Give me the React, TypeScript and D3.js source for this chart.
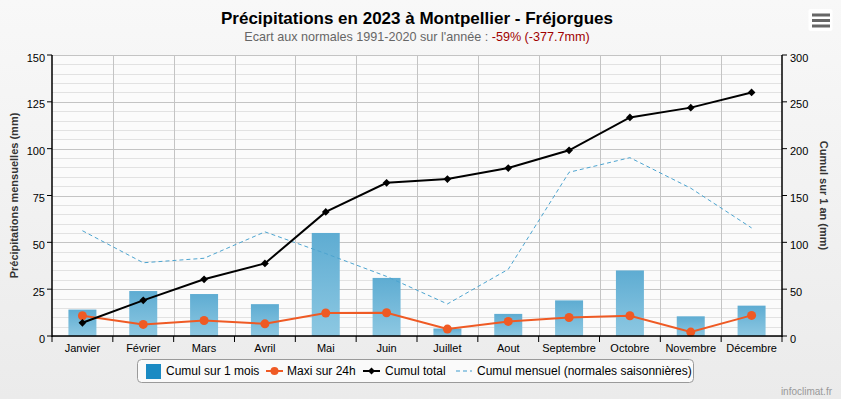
import React, { useRef, useEffect } from "react";
import * as d3 from "d3";

// Monthly data, Montpellier - Fréjorgues, 2023
const months = [
  "Janvier", "Février", "Mars", "Avril", "Mai", "Juin",
  "Juillet", "Aout", "Septembre", "Octobre", "Novembre", "Décembre",
];
const monthlyRain = [14.1, 24.0, 22.4, 17.0, 55.0, 31.0, 4.0, 11.8, 19.0, 35.0, 10.5, 16.2];
const max24h = [10.8, 6.2, 8.3, 6.5, 12.3, 12.4, 3.7, 7.8, 9.9, 10.8, 2.1, 11.0];
const cumulTotal = [14.1, 38.1, 60.5, 77.5, 132.5, 163.5, 167.5, 179.3, 198.3, 233.3, 243.8, 260.0];
const normals = [56.2, 39.1, 41.5, 55.6, 44.0, 31.8, 17.1, 35.6, 87.4, 95.2, 78.9, 57.7];
const leftTicks = [0, 25, 50, 75, 100, 125, 150];
const rightTicks = [0, 50, 100, 150, 200, 250, 300];

const FONT = "'Liberation Sans', Arial, sans-serif";

const App = () => {
  const svgRef = useRef<SVGSVGElement>(null);

  useEffect(() => {
    const width = 841;
    const height = 399;
    const plot = { left: 52, right: 782, top: 55, bottom: 336 };

    const svg = d3.select(svgRef.current).attr("width", width).attr("height", height);
    svg.selectAll("*").remove();

    const defs = svg.append("defs");
    const bg = defs.append("linearGradient").attr("id", "bg").attr("x1", 0).attr("y1", 0).attr("x2", 0).attr("y2", 1);
    bg.append("stop").attr("offset", "0%").attr("stop-color", "#f8f8f8");
    bg.append("stop").attr("offset", "100%").attr("stop-color", "#ebebeb");
    const barGrad = defs.append("linearGradient").attr("id", "barGrad").attr("x1", 0).attr("y1", 0).attr("x2", 0).attr("y2", 1);
    barGrad.append("stop").attr("offset", "0%").attr("stop-color", "#5eacd2");
    barGrad.append("stop").attr("offset", "100%").attr("stop-color", "#8dc8e2");

    svg.append("rect").attr("width", width).attr("height", height).attr("fill", "url(#bg)");
    svg
      .append("rect")
      .attr("x", plot.left)
      .attr("y", plot.top)
      .attr("width", plot.right - plot.left)
      .attr("height", plot.bottom - plot.top)
      .attr("fill", "#fbfbfb");

    // Scales
    const x = d3.scaleBand().domain(months).range([plot.left, plot.right]);
    const yLeft = d3.scaleLinear().domain([0, 150]).range([plot.bottom, plot.top]);
    const yRight = d3.scaleLinear().domain([0, 300]).range([plot.bottom, plot.top]);

    // Grid: minor every 5 mm, major every 25 mm
    const grid = svg.append("g");
    grid
      .selectAll()
      .data(d3.range(0, 151, 5).filter((v) => v % 25 !== 0))
      .join("line")
      .attr("x1", plot.left)
      .attr("x2", plot.right)
      .attr("y1", (d) => Math.round(yLeft(d)) + 0.5)
      .attr("y2", (d) => Math.round(yLeft(d)) + 0.5)
      .attr("stroke", "#e2e2e2");
    grid
      .selectAll()
      .data(leftTicks)
      .join("line")
      .attr("x1", plot.left)
      .attr("x2", plot.right)
      .attr("y1", (d) => Math.round(yLeft(d)) + 0.5)
      .attr("y2", (d) => Math.round(yLeft(d)) + 0.5)
      .attr("stroke", "#c4c4c4");
    grid
      .selectAll()
      .data(months.slice(1))
      .join("line")
      .attr("x1", (d) => Math.round(x(d)!) + 0.5)
      .attr("x2", (d) => Math.round(x(d)!) + 0.5)
      .attr("y1", plot.top)
      .attr("y2", plot.bottom)
      .attr("stroke", "#c4c4c4");

    // Bars
    const barW = x.bandwidth() * 0.46;
    svg
      .append("g")
      .selectAll()
      .data(monthlyRain)
      .join("rect")
      .attr("x", (d, i) => x(months[i])! + (x.bandwidth() - barW) / 2)
      .attr("y", (d) => yLeft(d))
      .attr("width", barW)
      .attr("height", (d) => plot.bottom - yLeft(d))
      .attr("fill", "url(#barGrad)");

    const cx = (i: number) => x(months[i])! + x.bandwidth() / 2;

    // Normals (dashed)
    svg
      .append("path")
      .datum(normals)
      .attr("d", d3.line<number>().x((d, i) => cx(i)).y((d) => yLeft(d)))
      .attr("fill", "none")
      .attr("stroke", "#4ca4d0")
      .attr("stroke-width", 1)
      .attr("stroke-dasharray", "4,3");

    // Max 24h (orange)
    svg
      .append("path")
      .datum(max24h)
      .attr("d", d3.line<number>().x((d, i) => cx(i)).y((d) => yLeft(d)))
      .attr("fill", "none")
      .attr("stroke", "#ef5a24")
      .attr("stroke-width", 2);
    svg
      .append("g")
      .selectAll()
      .data(max24h)
      .join("circle")
      .attr("cx", (d, i) => cx(i))
      .attr("cy", (d) => yLeft(d))
      .attr("r", 4.5)
      .attr("fill", "#ef5a24");

    // Cumul total (black)
    svg
      .append("path")
      .datum(cumulTotal)
      .attr("d", d3.line<number>().x((d, i) => cx(i)).y((d) => yRight(d)))
      .attr("fill", "none")
      .attr("stroke", "#000")
      .attr("stroke-width", 2);
    svg
      .append("g")
      .selectAll()
      .data(cumulTotal)
      .join("path")
      .attr("d", d3.symbol(d3.symbolSquare, 30)() as string)
      .attr("transform", (d, i) => `translate(${cx(i)},${yRight(d)}) rotate(45)`)
      .attr("fill", "#000");

    // Axes lines
    const axes = svg.append("g").attr("stroke", "#000").attr("stroke-width", 1.5);
    axes.append("line").attr("x1", plot.left).attr("x2", plot.left).attr("y1", plot.top).attr("y2", plot.bottom + 1);
    axes.append("line").attr("x1", plot.right).attr("x2", plot.right).attr("y1", plot.top).attr("y2", plot.bottom + 1);
    axes.append("line").attr("x1", plot.left).attr("x2", plot.right).attr("y1", plot.bottom).attr("y2", plot.bottom);

    // Ticks
    axes
      .selectAll(".lt")
      .data(leftTicks)
      .join("line")
      .attr("x1", plot.left - 5)
      .attr("x2", plot.left)
      .attr("y1", (d) => yLeft(d))
      .attr("y2", (d) => yLeft(d))
      .attr("stroke-width", 1);
    axes
      .selectAll(".rt")
      .data(rightTicks)
      .join("line")
      .attr("x1", plot.right)
      .attr("x2", plot.right + 5)
      .attr("y1", (d) => yRight(d))
      .attr("y2", (d) => yRight(d))
      .attr("stroke-width", 1);
    axes
      .selectAll(".xt")
      .data(d3.range(months.length + 1))
      .join("line")
      .attr("x1", (d) => plot.left + d * x.step())
      .attr("x2", (d) => plot.left + d * x.step())
      .attr("y1", plot.bottom)
      .attr("y2", plot.bottom + 6)
      .attr("stroke-width", 1);

    const labels = svg.append("g").attr("font-family", FONT).attr("font-size", 11).attr("fill", "#000");
    labels
      .selectAll(".ll")
      .data(leftTicks)
      .join("text")
      .attr("x", plot.left - 7)
      .attr("y", (d) => yLeft(d) + 6.5)
      .attr("text-anchor", "end")
      .text((d) => d);
    labels
      .selectAll(".rl")
      .data(rightTicks)
      .join("text")
      .attr("x", plot.right + 8)
      .attr("y", (d) => yRight(d) + 6.5)
      .text((d) => d);
    labels
      .selectAll(".xl")
      .data(months)
      .join("text")
      .attr("x", (d) => x(d)! + x.bandwidth() / 2)
      .attr("y", plot.bottom + 16)
      .attr("text-anchor", "middle")
      .text((d) => d);

    // Axis titles
    svg
      .append("text")
      .attr("transform", `translate(18, ${(plot.top + plot.bottom) / 2}) rotate(-90)`)
      .attr("text-anchor", "middle")
      .attr("font-family", FONT)
      .attr("font-size", 11)
      .attr("font-weight", "bold")
      .attr("fill", "#333")
      .text("Précipitations mensuelles (mm)");
    svg
      .append("text")
      .attr("transform", `translate(820, ${(plot.top + plot.bottom) / 2}) rotate(90)`)
      .attr("text-anchor", "middle")
      .attr("font-family", FONT)
      .attr("font-size", 11)
      .attr("font-weight", "bold")
      .attr("fill", "#333")
      .text("Cumul sur 1 an (mm)");

    // Title and subtitle
    svg
      .append("text")
      .attr("x", 417)
      .attr("y", 24)
      .attr("text-anchor", "middle")
      .attr("font-family", FONT)
      .attr("font-size", 17)
      .attr("font-weight", "bold")
      .attr("fill", "#000")
      .text("Précipitations en 2023 à Montpellier - Fréjorgues");
    const sub = svg
      .append("text")
      .attr("x", 417)
      .attr("y", 41)
      .attr("text-anchor", "middle")
      .attr("font-family", FONT)
      .attr("font-size", 12.6)
      .attr("fill", "#666");
    sub.append("tspan").text("Ecart aux normales 1991-2020 sur l'année : ");
    sub.append("tspan").attr("fill", "#a00000").text("-59% (-377.7mm)");

    // Legend
    const legend = svg.append("g").attr("font-family", FONT).attr("font-size", 12);
    legend
      .append("rect")
      .attr("x", 137.5)
      .attr("y", 359.5)
      .attr("width", 556)
      .attr("height", 23)
      .attr("rx", 4)
      .attr("fill", "#fafafa")
      .attr("stroke", "#9a9a9a");
    const ly = 371;
    legend.append("rect").attr("x", 146).attr("y", ly - 7).attr("width", 15).attr("height", 15).attr("fill", "#1a8ac3");
    legend.append("text").attr("x", 166).attr("y", ly + 4).text("Cumul sur 1 mois");
    legend.append("line").attr("x1", 266).attr("x2", 283).attr("y1", ly).attr("y2", ly).attr("stroke", "#ef5a24").attr("stroke-width", 2);
    legend.append("circle").attr("cx", 274.5).attr("cy", ly).attr("r", 4).attr("fill", "#ef5a24");
    legend.append("text").attr("x", 287).attr("y", ly + 4).text("Maxi sur 24h");
    legend.append("line").attr("x1", 363).attr("x2", 380).attr("y1", ly).attr("y2", ly).attr("stroke", "#000").attr("stroke-width", 2);
    legend
      .append("path")
      .attr("d", d3.symbol(d3.symbolSquare, 24)() as string)
      .attr("transform", `translate(371.5,${ly}) rotate(45)`)
      .attr("fill", "#000");
    legend.append("text").attr("x", 385).attr("y", ly + 4).text("Cumul total");
    legend
      .append("line")
      .attr("x1", 456)
      .attr("x2", 472)
      .attr("y1", ly)
      .attr("y2", ly)
      .attr("stroke", "#9ccbe4")
      .attr("stroke-width", 2)
      .attr("stroke-dasharray", "4,3");
    legend.append("text").attr("x", 477).attr("y", ly + 4).text("Cumul mensuel (normales saisonnières)");

    // Menu button
    const menu = svg.append("g");
    menu.append("rect").attr("x", 808.5).attr("y", 9).attr("width", 24).attr("height", 22).attr("rx", 2).attr("fill", "#fff");
    menu
      .selectAll()
      .data([15, 20.5, 26])
      .join("rect")
      .attr("x", 812)
      .attr("y", (d) => d - 1.5)
      .attr("width", 18)
      .attr("height", 3)
      .attr("fill", "#666");

    // Credits
    svg
      .append("text")
      .attr("x", 832)
      .attr("y", 395)
      .attr("text-anchor", "end")
      .attr("font-family", FONT)
      .attr("font-size", 10)
      .attr("fill", "#999")
      .text("infoclimat.fr");
  }, []);

  return (
    <div>
      <svg ref={svgRef} style={{ position: "absolute", left: 0, top: 0 }}></svg>
    </div>
  );
};

export default App;
